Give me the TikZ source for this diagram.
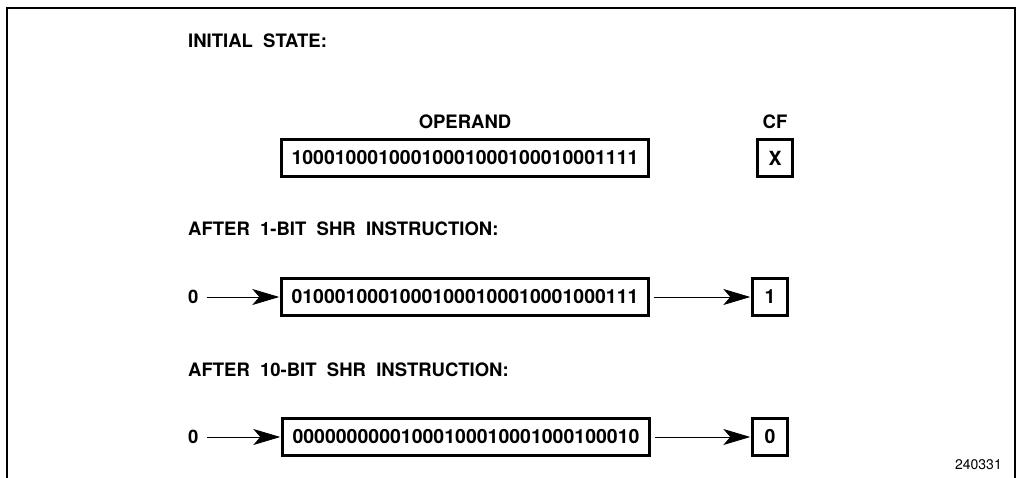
\documentclass[tikz,border=0pt]{standalone}
\usepackage{fontspec}
\setmainfont{TeX Gyre Heros}
\usetikzlibrary{arrows.meta}
\tikzset{
  title/.style={anchor=west,font=\fontsize{18.5}{20}\selectfont\bfseries,inner sep=0pt},
  lbl/.style={font=\fontsize{18.5}{20}\selectfont\bfseries,inner sep=0pt},
  reg/.style={draw,line width=2.4pt,minimum height=37pt,inner sep=0pt,font=\fontsize{19.5}{21}\selectfont\bfseries},
  bigreg/.style={reg,minimum width=367pt},
  bitreg/.style={reg,minimum width=35pt},
  arr/.style={line width=0.9pt,-{Stealth[length=27pt,width=16pt,inset=7pt]},shorten >=1pt},
}
\begin{document}
\begin{tikzpicture}[x=1pt,y=-1pt]
\useasboundingbox (0,0) rectangle (1017,478);
\draw[line width=2pt] (7,478) -- (7,8) -- (1015,8) -- (1015,478);

\node[title] (t1) at (188,41) {INITIAL\ \ STATE:};
\node[lbl] (op) at (465,122) {OPERAND};
\node[lbl] (cf) at (775,122) {CF};
\node[bigreg] (b1) at (465,158) {10001000100010001000100010001111};
\node[bitreg] (c1) at (775,158) {X};

\node[title] (t2) at (188,229) {AFTER\ \ 1-BIT\ \ SHR\ \ INSTRUCTION:};
\node[lbl,anchor=west] (z2) at (188,297) {0};
\node[bigreg] (b2) at (465,297) {01000100010001000100010001000111};
\node[bitreg] (c2) at (770,297) {1};
\draw[arr] ([xshift=8pt]z2.east) -- (b2.west);
\draw[arr] ([xshift=4pt]b2.east) -- (c2.west);

\node[title] (t3) at (188,370) {AFTER\ \ 10-BIT\ \ SHR\ \ INSTRUCTION:};
\node[lbl,anchor=west] (z3) at (188,437) {0};
\node[bigreg] (b3) at (466,437) {00000000001000100010001000100010};
\node[bitreg] (c3) at (770,437) {0};
\draw[arr] ([xshift=8pt]z3.east) -- (b3.west);
\draw[arr] ([xshift=4pt]b3.east) -- (c3.west);

\node[anchor=east,font=\fontsize{14}{16}\selectfont,inner sep=0pt] (id) at (1002,465) {240331};
\end{tikzpicture}
\end{document}
